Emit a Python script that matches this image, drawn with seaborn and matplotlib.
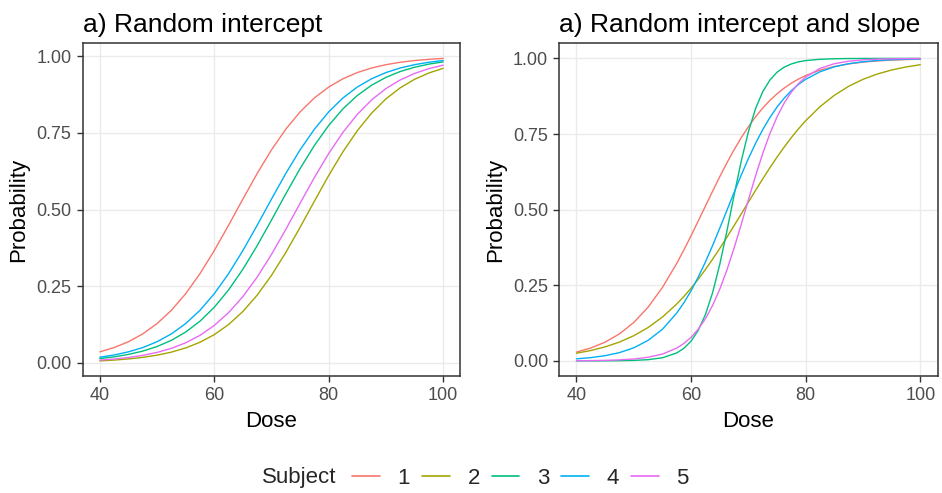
import matplotlib
matplotlib.use("Agg")
import matplotlib.pyplot as plt
from matplotlib.lines import Line2D
import seaborn as sns
import pandas as pd

# ---- data ----
subjects = ["1", "2", "3", "4", "5"]

# a) random intercept
dose_a = [40, 42.5, 45, 47.5, 50, 52.5, 55, 57.5, 60, 62.5, 65, 67.5, 70,
          72.5, 75, 77.5, 80, 82.5, 85, 87.5, 90, 92.5, 95, 97.5, 100]
a_s1 = [0.0360, 0.0499, 0.0690, 0.0945, 0.1281, 0.1714, 0.2256, 0.2910, 0.3663, 0.4488,
        0.5342, 0.6177, 0.6947, 0.7621, 0.8186, 0.8641, 0.8995, 0.9265, 0.9467, 0.9616,
        0.9724, 0.9803, 0.9859, 0.9899, 0.9928]
a_s2 = [0.0065, 0.0091, 0.0128, 0.0180, 0.0251, 0.0350, 0.0487, 0.0672, 0.0921, 0.1250,
        0.1676, 0.2209, 0.2854, 0.3600, 0.4421, 0.5273, 0.6111, 0.6888, 0.7571, 0.8145,
        0.8608, 0.8970, 0.9246, 0.9453, 0.9605]
a_s3 = [0.0141, 0.0197, 0.0276, 0.0384, 0.0533, 0.0735, 0.1005, 0.1359, 0.1814, 0.2379,
        0.3053, 0.3823, 0.4658, 0.5512, 0.6337, 0.7090, 0.7744, 0.8286, 0.8719, 0.9055,
        0.9310, 0.9501, 0.9640, 0.9742, 0.9815]
a_s4 = [0.0185, 0.0258, 0.0360, 0.0499, 0.0690, 0.0945, 0.1281, 0.1714, 0.2256, 0.2910,
        0.3663, 0.4488, 0.5342, 0.6177, 0.6947, 0.7621, 0.8186, 0.8641, 0.8995, 0.9265,
        0.9467, 0.9616, 0.9724, 0.9803, 0.9859]
a_s5 = [0.0089, 0.0125, 0.0175, 0.0245, 0.0341, 0.0474, 0.0655, 0.0898, 0.1221, 0.1638,
        0.2162, 0.2798, 0.3537, 0.4353, 0.5205, 0.6046, 0.6829, 0.7520, 0.8103, 0.8575,
        0.8944, 0.9227, 0.9438, 0.9595, 0.9709]

# b) random intercept and slope (finer readings through the steep middle)
dose_b = [40, 42.5, 45, 47.5, 50, 52.5, 55, 57.5,
          58.75, 60, 61.25, 62.5, 63.75, 65, 66.25, 67.5, 68.75, 70, 71.25, 72.5,
          73.75, 75, 76.25, 77.5, 78.75,
          80, 82.5, 85, 87.5, 90, 92.5, 95, 97.5, 100]
b_s1 = [0.0291, 0.0426, 0.0620, 0.0893, 0.1270, 0.1776, 0.2428, 0.3225,
        0.3670, 0.4139, 0.4626, 0.5118, 0.5609, 0.6088, 0.6548, 0.6980, 0.7379, 0.7742,
        0.8069, 0.8358, 0.8612, 0.8831, 0.9020, 0.9182, 0.9318,
        0.9434, 0.9611, 0.9734, 0.9819, 0.9878, 0.9917, 0.9944, 0.9962, 0.9975]
b_s2 = [0.0253, 0.0343, 0.0463, 0.0622, 0.0832, 0.1103, 0.1449, 0.1881,
        0.2131, 0.2405, 0.2701, 0.3020, 0.3360, 0.3717, 0.4088, 0.4471, 0.4860, 0.5250,
        0.5637, 0.6017, 0.6385, 0.6737, 0.7070, 0.7384, 0.7675,
        0.7941, 0.8405, 0.8781, 0.9079, 0.9309, 0.9485, 0.9618, 0.9717, 0.9792]
b_s3 = [0.0000, 0.0001, 0.0002, 0.0006, 0.0016, 0.0040, 0.0103, 0.0263,
        0.0417, 0.0654, 0.1011, 0.1532, 0.2253, 0.3187, 0.4292, 0.5474, 0.6604, 0.7577,
        0.8341, 0.8899, 0.9286, 0.9544, 0.9712, 0.9818, 0.9886,
        0.9929, 0.9972, 0.9989, 0.9996, 0.9998, 0.9999, 1.0000, 1.0000, 1.0000]
b_s4 = [0.0067, 0.0108, 0.0172, 0.0273, 0.0432, 0.0678, 0.1046, 0.1582,
        0.1924, 0.2320, 0.2770, 0.3270, 0.3812, 0.4386, 0.4976, 0.5568, 0.6143, 0.6689,
        0.7192, 0.7646, 0.8046, 0.8393, 0.8688, 0.8936, 0.9142,
        0.9310, 0.9559, 0.9722, 0.9825, 0.9890, 0.9932, 0.9957, 0.9973, 0.9983]
b_s5 = [0.0005, 0.0009, 0.0017, 0.0033, 0.0062, 0.0119, 0.0225, 0.0423,
        0.0576, 0.0780, 0.1048, 0.1394, 0.1832, 0.2369, 0.3005, 0.3729, 0.4514, 0.5325,
        0.6118, 0.6857, 0.7512, 0.8069, 0.8526, 0.8890, 0.9172,
        0.9388, 0.9671, 0.9825, 0.9908, 0.9952, 0.9975, 0.9987, 0.9993, 0.9996]

titles = ["a) Random intercept", "a) Random intercept and slope"]
y_ticks = [0.00, 0.25, 0.50, 0.75, 1.00]
x_ticks = [40, 60, 80, 100]
colors = ["#F8766D", "#A3A500", "#00BF7D", "#00B0F6", "#E76BF3"]


def long_frame(dose, series):
    rows = []
    for subj, vals in zip(subjects, series):
        for d, p in zip(dose, vals):
            rows.append({"Dose": d, "Probability": p, "Subject": subj})
    return pd.DataFrame(rows)


df_a = long_frame(dose_a, [a_s1, a_s2, a_s3, a_s4, a_s5])
df_b = long_frame(dose_b, [b_s1, b_s2, b_s3, b_s4, b_s5])

sns.set_theme(style="white")
plt.rcParams["font.family"] = ["Liberation Sans", "DejaVu Sans"]

fig = plt.figure(figsize=(9.42, 4.93), dpi=100)
W, H = 942, 493
ax_a = fig.add_axes([82.7 / W, 1 - 376 / H, (460.3 - 82.7) / W, (376 - 43.3) / H])
ax_b = fig.add_axes([559.3 / W, 1 - 376 / H, (937.5 - 559.3) / W, (376 - 43.3) / H])

palette = dict(zip(subjects, colors))
for ax, df, title in [(ax_a, df_a, titles[0]), (ax_b, df_b, titles[1])]:
    sns.lineplot(data=df, x="Dose", y="Probability", hue="Subject",
                 palette=palette, linewidth=1.0, ax=ax, legend=False)
    ax.set_xticks(x_ticks)
    ax.set_yticks(y_ticks)
    ax.set_yticklabels([f"{v:.2f}" for v in y_ticks])
    ax.margins(x=0.05, y=0.05)
    ax.grid(True, color="#EBEBEB", linewidth=1.0)
    ax.set_axisbelow(True)
    for s in ax.spines.values():
        s.set_color("#333333")
        s.set_linewidth(1.1)
    ax.tick_params(axis="both", which="major", length=4.5, width=1.0,
                   color="#333333", labelcolor="#4D4D4D", labelsize=13, pad=3.5,
                   bottom=True, left=True)
    ax.set_xlabel("Dose", fontsize=16, color="black", labelpad=5)
    ax.set_ylabel("Probability", fontsize=16, color="black", labelpad=5)
    ax.set_title(title, fontsize=19, color="black", loc="left", pad=8)

# legend at bottom
fig.text(261.7 / W, 1 - 478 / H, "Subject", fontsize=16, ha="left", va="center")
handles = [Line2D([0], [0], color=c, lw=1.2) for c in colors]
fig.legend(handles, subjects, loc="center left", bbox_to_anchor=(352 / W, 1 - 478 / H),
           ncol=5, frameon=False, fontsize=16, handlelength=1.25, handletextpad=0.8,
           columnspacing=0.53, borderpad=0, borderaxespad=0)

fig.savefig("out.png", dpi=100, facecolor="white")
